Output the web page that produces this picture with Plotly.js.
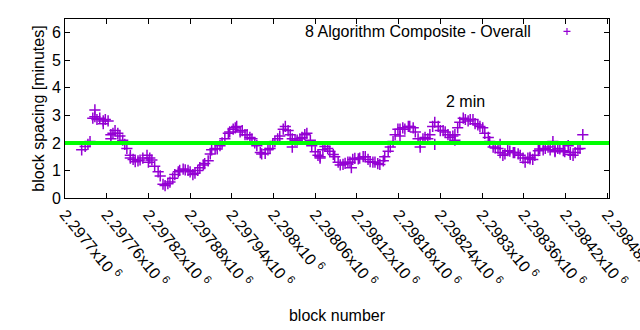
<!DOCTYPE html>
<html>
<head>
<meta charset="utf-8">
<script src="https://cdn.plot.ly/plotly-3.0.1.min.js"></script>
<style>html,body{margin:0;padding:0;background:#fff;}#chart{width:640px;height:330px;}</style>
</head>
<body>
<div id="chart"></div>
<script>
// block numbers (x) and block spacing in minutes (y)
const blocks = [
2297724,2297729,2297733,2297736,2297740,2297743,2297743,2297746,2297750,2297755,2297755,2297758,2297762,
2297766,2297766,2297769,2297772,2297776,2297779,2297783,2297786,2297789,2297794,2297794,2297798,2297801,
2297805,2297808,2297812,2297818,2297820,2297822,2297825,2297829,2297834,2297837,2297841,2297844,2297848,
2297851,2297855,2297858,2297863,2297865,2297870,2297873,2297877,2297880,2297884,2297887,2297891,2297894,
2297899,2297901,2297906,2297909,2297911,2297916,2297919,2297923,2297926,2297930,2297935,2297937,2297942,
2297945,2297947,2297952,2297955,2297959,2297962,2297966,2297969,2297973,2297976,2297981,2297983,2297988,
2297992,2297995,2297999,2298002,2298006,2298009,2298014,2298017,2298021,2298024,2298027,2298027,2298031,
2298034,2298038,2298041,2298045,2298048,2298053,2298055,2298060,2298064,2298067,2298067,2298071,2298074,
2298078,2298081,2298086,2298088,2298093,2298096,2298100,2298103,2298107,2298110,2298112,2298114,2298117,
2298122,2298124,2298129,2298132,2298136,2298139,2298143,2298146,2298150,2298153,2298158,2298160,2298165,
2298168,2298172,2298175,2298179,2298182,2298182,2298186,2298189,2298194,2298196,2298201,2298204,2298208,
2298211,2298211,2298215,2298218,2298222,2298225,2298229,2298232,2298232,2298237,2298240,2298244,2298247,
2298251,2298254,2298258,2298261,2298261,2298265,2298268,2298273,2298276,2298280,2298283,2298287,2298290,
2298294,2298297,2298301,2298304,2298309,2298311,2298316,2298319,2298323,2298326,2298326,2298330,2298333,
2298337,2298340,2298345,2298347,2298352,2298355,2298359,2298362,2298366,2298369,2298369,2298373,2298376,
2298381,2298383,2298388,2298391,2298395,2298398,2298402,2298405,2298405,2298409,2298412,2298417,2298419,
2298424,2298427,2298427,2298431,2298434,2298438,2298441,2298445,2298448
];
const spacing = [
1.75,1.87,1.95,2.05,2.9,2.95,3.2,2.85,2.9,2.8,2.7,2.85,2.8,
2.3,2.15,2.35,2.45,2.35,2.25,2.1,1.95,1.8,1.55,1.45,1.4,1.32,
1.35,1.38,1.45,1.55,1.3,1.45,1.38,1.15,0.95,0.8,0.5,0.45,0.52,
0.58,0.72,0.85,0.95,1.0,1.05,1.02,1.0,0.95,0.85,0.9,1.0,1.1,
1.2,1.25,1.35,1.6,1.75,1.8,1.78,1.9,2.0,2.15,2.35,2.4,2.5,
2.55,2.6,2.4,2.45,2.3,2.3,2.2,2.15,2.0,1.9,1.65,1.6,1.62,
1.75,1.8,1.95,2.05,2.15,2.25,2.5,2.6,2.45,2.3,2.15,1.85,2.1,
2.1,2.15,2.2,2.3,2.35,2.1,1.9,1.68,1.55,1.5,1.45,1.75,1.87,
1.8,1.7,1.58,1.5,1.3,1.2,1.22,1.26,1.3,1.3,1.1,1.4,1.44,
1.42,1.45,1.5,1.5,1.4,1.32,1.3,1.3,1.25,1.22,1.35,1.5,1.7,
1.85,2.05,2.3,2.5,2.5,2.25,2.55,2.5,2.6,2.6,2.55,2.4,2.15,
1.85,2.0,2.15,2.2,2.15,2.3,2.6,1.95,2.75,2.6,2.45,2.45,2.4,
2.3,2.2,2.25,2.3,2.1,2.55,2.75,2.9,2.85,2.8,2.85,2.85,2.7,
2.65,2.6,2.55,2.35,2.2,2.05,1.85,1.82,1.8,1.95,1.65,1.55,
1.6,1.72,1.7,1.65,1.65,1.6,1.55,1.45,1.3,1.45,1.48,1.42,1.4,
1.55,1.72,1.78,1.75,1.8,1.85,1.75,2.05,1.68,1.72,1.8,1.78,1.72,
1.68,1.9,1.65,1.58,1.55,1.65,1.78,1.8,2.3
];
const tickVals = [2297700,2297760,2297820,2297880,2297940,2298000,2298060,2298120,2298180,2298240,2298300,2298360,2298420,2298480];
const tickLabels = ["2.2977","2.29776","2.29782","2.29788","2.29794","2.298","2.29806","2.29812","2.29818","2.29824","2.2983","2.29836","2.29842","2.29848"];
const seriesName = "8 Algorithm Composite - Overall";
const targetMinutes = 2;
const labelText = "2 min";

const font = {family: "Liberation Sans, Arial, sans-serif", size: 16, color: "#000"};
const violet = "#9400D3";

const trace = {
  x: blocks, y: spacing, type: "scatter", mode: "markers", name: seriesName,
  marker: {symbol: "cross-thin", size: 8, color: violet, line: {color: violet, width: 1.5}},
  showlegend: false
};
// legend key (style only, no data)
const key = {
  x: [null], y: [null], type: "scatter", mode: "markers", name: " ",
  marker: {symbol: "cross-thin", size: 5, color: violet, line: {color: violet, width: 1.2}},
  showlegend: true, hoverinfo: "skip"
};

const layout = {
  width: 640, height: 330,
  margin: {l: 65, r: 31, t: 19, b: 132},
  paper_bgcolor: "#fff", plot_bgcolor: "#fff",
  font: font,
  showlegend: true,
  legend: {x: 0.886, y: 1.025, xanchor: "left", yanchor: "top", bgcolor: "rgba(0,0,0,0)", font: font, itemwidth: 30},
  xaxis: {
    range: [2297700, 2298482.7], tickmode: "array", tickvals: tickVals,
    ticktext: tickLabels.map(t => t + "x10 <sup>6</sup>"),
    tickangle: 51, ticks: "inside", ticklen: 5, tickcolor: "#000",
    ticklabeloverflow: "allow",
    showline: true, linecolor: "#000", linewidth: 1, mirror: "allticks",
    showgrid: false, zeroline: false, tickfont: font,
    title: {text: "block number", font: font, standoff: 20}
  },
  yaxis: {
    range: [0, 6.5], tickvals: [0,1,2,3,4,5,6], ticks: "inside", ticklen: 5, tickcolor: "#000",
    showline: true, linecolor: "#000", linewidth: 1, mirror: "allticks",
    showgrid: false, zeroline: false, tickfont: font,
    title: {text: "block spacing [minutes]", font: font, standoff: 3}
  },
  shapes: [{type: "line", xref: "paper", x0: 0, x1: 1, yref: "y", y0: targetMinutes, y1: targetMinutes,
    line: {color: "#00FF00", width: 4}, layer: "above"}],
  annotations: [
    {text: seriesName, xref: "paper", yref: "paper", x: (533-65)/544, y: (198-32)/179, xanchor: "right", yanchor: "middle", showarrow: false, font: font},
    {text: labelText, xref: "x", yref: "y", x: 2298276, y: 3.5, xanchor: "center", yanchor: "middle", showarrow: false, font: font}
  ]
};

Plotly.newPlot("chart", [trace, key], layout, {displayModeBar: false, staticPlot: true});
</script>
</body>
</html>
